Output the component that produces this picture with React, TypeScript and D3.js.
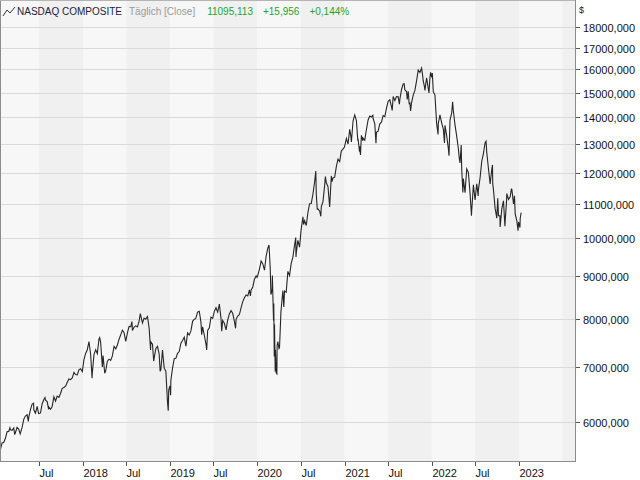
import React from "react";
import * as d3 from "d3";

// ---- Data (weekly-ish closes) ----
const y2017: [string, number][] = [
  ["2017-01-17", 5538], ["2017-01-20", 5555], ["2017-01-27", 5660], ["2017-02-03", 5667], ["2017-02-10", 5734],
  ["2017-02-17", 5839], ["2017-02-24", 5845], ["2017-03-01", 5904], ["2017-03-03", 5870], ["2017-03-10", 5861],
  ["2017-03-17", 5901], ["2017-03-21", 5794], ["2017-03-24", 5828], ["2017-03-31", 5912], ["2017-04-07", 5878],
  ["2017-04-13", 5805], ["2017-04-21", 5910], ["2017-04-28", 6047], ["2017-05-05", 6100], ["2017-05-12", 6121],
  ["2017-05-17", 6011], ["2017-05-19", 6083], ["2017-05-26", 6210], ["2017-06-02", 6306], ["2017-06-08", 6321],
  ["2017-06-09", 6208], ["2017-06-16", 6151], ["2017-06-23", 6265], ["2017-06-29", 6144], ["2017-06-30", 6140],
  ["2017-07-07", 6153], ["2017-07-14", 6312], ["2017-07-21", 6388], ["2017-07-26", 6422], ["2017-07-28", 6374],
  ["2017-08-04", 6351], ["2017-08-10", 6216], ["2017-08-11", 6256], ["2017-08-18", 6217], ["2017-08-25", 6265],
  ["2017-09-01", 6435], ["2017-09-08", 6360], ["2017-09-15", 6448], ["2017-09-22", 6426], ["2017-09-29", 6496],
  ["2017-10-06", 6590], ["2017-10-13", 6605], ["2017-10-20", 6629], ["2017-10-27", 6701], ["2017-11-03", 6764],
  ["2017-11-10", 6750], ["2017-11-17", 6783], ["2017-11-24", 6889], ["2017-12-01", 6847], ["2017-12-08", 6840],
  ["2017-12-15", 6936], ["2017-12-22", 6959], ["2017-12-29", 6903],
];
const y2018: [string, number][] = [
  ["2018-01-05", 7136], ["2018-01-12", 7261], ["2018-01-19", 7336], ["2018-01-26", 7505], ["2018-02-02", 7240],
  ["2018-02-08", 6777], ["2018-02-09", 6874], ["2018-02-16", 7239], ["2018-02-23", 7337], ["2018-03-02", 7258],
  ["2018-03-09", 7560], ["2018-03-12", 7588], ["2018-03-16", 7482], ["2018-03-23", 6993], ["2018-03-26", 7220],
  ["2018-03-29", 7063], ["2018-04-02", 6870], ["2018-04-06", 6915], ["2018-04-13", 7107], ["2018-04-20", 7146],
  ["2018-04-27", 7120], ["2018-05-04", 7210], ["2018-05-11", 7403], ["2018-05-18", 7354], ["2018-05-25", 7434],
  ["2018-06-01", 7554], ["2018-06-08", 7646], ["2018-06-15", 7746], ["2018-06-22", 7692], ["2018-06-29", 7510],
  ["2018-07-06", 7688], ["2018-07-13", 7826], ["2018-07-20", 7820], ["2018-07-25", 7932], ["2018-07-27", 7737],
  ["2018-08-03", 7812], ["2018-08-10", 7839], ["2018-08-17", 7816], ["2018-08-24", 7945], ["2018-08-29", 8110],
  ["2018-09-07", 7903], ["2018-09-14", 8010], ["2018-09-21", 7987], ["2018-09-28", 8046], ["2018-10-05", 7788],
  ["2018-10-11", 7329], ["2018-10-12", 7497], ["2018-10-19", 7449], ["2018-10-24", 7108], ["2018-10-26", 7167],
  ["2018-11-02", 7357], ["2018-11-09", 7406], ["2018-11-16", 7248], ["2018-11-20", 6909], ["2018-11-23", 6938],
  ["2018-11-30", 7331], ["2018-12-07", 6969], ["2018-12-14", 6911], ["2018-12-21", 6333], ["2018-12-24", 6193],
  ["2018-12-26", 6555], ["2018-12-31", 6635],
];
const y2019: [string, number][] = [
  ["2019-01-03", 6463], ["2019-01-04", 6739], ["2019-01-11", 6971], ["2019-01-18", 7157], ["2019-01-25", 7165],
  ["2019-02-01", 7264], ["2019-02-08", 7298], ["2019-02-15", 7472], ["2019-02-22", 7527], ["2019-03-01", 7595],
  ["2019-03-08", 7408], ["2019-03-15", 7688], ["2019-03-22", 7643], ["2019-03-29", 7729], ["2019-04-05", 7939],
  ["2019-04-12", 7985], ["2019-04-18", 7998], ["2019-04-26", 8146], ["2019-05-03", 8164], ["2019-05-10", 7917],
  ["2019-05-13", 7647], ["2019-05-17", 7816], ["2019-05-24", 7637], ["2019-05-31", 7453], ["2019-06-03", 7333],
  ["2019-06-07", 7742], ["2019-06-14", 7797], ["2019-06-21", 8032], ["2019-06-28", 8006], ["2019-07-05", 8162],
  ["2019-07-12", 8244], ["2019-07-19", 8146], ["2019-07-26", 8330], ["2019-08-02", 8004], ["2019-08-05", 7726],
  ["2019-08-09", 7959], ["2019-08-16", 7896], ["2019-08-23", 7752], ["2019-08-30", 7963], ["2019-09-06", 8103],
  ["2019-09-13", 8177], ["2019-09-20", 8118], ["2019-09-27", 7940], ["2019-10-02", 7786], ["2019-10-04", 7982],
  ["2019-10-11", 8057], ["2019-10-18", 8090], ["2019-10-25", 8243], ["2019-11-01", 8386], ["2019-11-08", 8475],
  ["2019-11-15", 8541], ["2019-11-22", 8520], ["2019-11-29", 8665], ["2019-12-03", 8520], ["2019-12-06", 8657],
  ["2019-12-13", 8735], ["2019-12-20", 8925], ["2019-12-27", 9007], ["2019-12-31", 8973],
];
const y2020: [string, number][] = [
  ["2020-01-03", 9020], ["2020-01-10", 9179], ["2020-01-17", 9389], ["2020-01-24", 9315], ["2020-01-31", 9151],
  ["2020-02-07", 9520], ["2020-02-14", 9731], ["2020-02-19", 9817], ["2020-02-21", 9577], ["2020-02-24", 9221],
  ["2020-02-27", 8566], ["2020-02-28", 8567], ["2020-03-03", 8684], ["2020-03-04", 9018], ["2020-03-06", 8576],
  ["2020-03-09", 7950], ["2020-03-10", 8344], ["2020-03-12", 7201], ["2020-03-13", 7875], ["2020-03-16", 6905],
  ["2020-03-17", 7335], ["2020-03-20", 6880], ["2020-03-23", 6861], ["2020-03-24", 7418], ["2020-03-27", 7502],
  ["2020-04-01", 7360], ["2020-04-03", 7373], ["2020-04-09", 8153], ["2020-04-17", 8650], ["2020-04-21", 8263],
  ["2020-04-24", 8634], ["2020-05-01", 8605], ["2020-05-08", 9121], ["2020-05-15", 9015], ["2020-05-22", 9325],
  ["2020-05-29", 9490], ["2020-06-05", 9815], ["2020-06-10", 10020], ["2020-06-11", 9493], ["2020-06-12", 9589],
  ["2020-06-19", 9946], ["2020-06-26", 9757], ["2020-07-02", 10208], ["2020-07-10", 10617], ["2020-07-13", 10391],
  ["2020-07-17", 10503], ["2020-07-24", 10363], ["2020-07-31", 10745], ["2020-08-07", 11011], ["2020-08-14", 11019],
  ["2020-08-21", 11312], ["2020-08-28", 11696], ["2020-09-02", 12056], ["2020-09-04", 11313], ["2020-09-08", 10848],
  ["2020-09-11", 10854], ["2020-09-18", 10793], ["2020-09-23", 10633], ["2020-09-25", 10914], ["2020-10-02", 11075],
  ["2020-10-09", 11580], ["2020-10-12", 11876], ["2020-10-16", 11672], ["2020-10-23", 11548], ["2020-10-30", 10912],
  ["2020-11-06", 11895], ["2020-11-09", 11713], ["2020-11-13", 11830], ["2020-11-20", 11855], ["2020-11-27", 12206],
  ["2020-12-04", 12464], ["2020-12-11", 12378], ["2020-12-18", 12756], ["2020-12-24", 12805], ["2020-12-31", 12888],
];
const y2021: [string, number][] = [
  ["2021-01-08", 13202], ["2021-01-15", 12998], ["2021-01-22", 13543], ["2021-01-27", 13271], ["2021-01-29", 13070],
  ["2021-02-05", 13856], ["2021-02-12", 14095], ["2021-02-19", 13874], ["2021-02-25", 13119], ["2021-02-26", 13192],
  ["2021-03-04", 12723], ["2021-03-05", 12920], ["2021-03-08", 12609], ["2021-03-12", 13319], ["2021-03-18", 13116],
  ["2021-03-19", 13215], ["2021-03-26", 13138], ["2021-04-01", 13480], ["2021-04-09", 13900], ["2021-04-16", 14052],
  ["2021-04-23", 14016], ["2021-04-29", 14082], ["2021-04-30", 13962], ["2021-05-07", 13752], ["2021-05-12", 13032],
  ["2021-05-14", 13430], ["2021-05-21", 13471], ["2021-05-28", 13748], ["2021-06-04", 13814], ["2021-06-11", 14069],
  ["2021-06-18", 14030], ["2021-06-25", 14360], ["2021-07-02", 14639], ["2021-07-09", 14701], ["2021-07-16", 14427],
  ["2021-07-19", 14275], ["2021-07-23", 14837], ["2021-07-30", 14673], ["2021-08-06", 14835], ["2021-08-13", 14823],
  ["2021-08-18", 14526], ["2021-08-20", 14715], ["2021-08-27", 15129], ["2021-09-03", 15364], ["2021-09-07", 15374],
  ["2021-09-10", 15115], ["2021-09-17", 15044], ["2021-09-20", 14714], ["2021-09-24", 15048], ["2021-09-28", 14546],
  ["2021-10-01", 14567], ["2021-10-04", 14255], ["2021-10-08", 14580], ["2021-10-15", 14897], ["2021-10-22", 15090],
  ["2021-10-29", 15498], ["2021-11-05", 15971], ["2021-11-12", 15861], ["2021-11-19", 16057], ["2021-11-22", 15854],
  ["2021-11-26", 15491], ["2021-12-01", 15254], ["2021-12-03", 15085], ["2021-12-10", 15630], ["2021-12-17", 15169],
  ["2021-12-20", 14981], ["2021-12-24", 15653], ["2021-12-27", 15871], ["2021-12-31", 15645],
];
const y2022: [string, number][] = [
  ["2022-01-03", 15832], ["2022-01-07", 15036], ["2022-01-14", 14894], ["2022-01-21", 13769], ["2022-01-27", 13353],
  ["2022-01-28", 13770], ["2022-02-04", 14098], ["2022-02-11", 13791], ["2022-02-18", 13548], ["2022-02-23", 13037],
  ["2022-02-25", 13695], ["2022-03-04", 13313], ["2022-03-11", 12844], ["2022-03-14", 12581], ["2022-03-18", 13894],
  ["2022-03-25", 14169], ["2022-03-29", 14620], ["2022-04-01", 14262], ["2022-04-08", 13711], ["2022-04-14", 13351],
  ["2022-04-22", 12840], ["2022-04-26", 12491], ["2022-04-29", 12335], ["2022-05-04", 12964], ["2022-05-06", 12145],
  ["2022-05-11", 11364], ["2022-05-13", 11805], ["2022-05-20", 11355], ["2022-05-27", 12131], ["2022-06-03", 12013],
  ["2022-06-10", 11340], ["2022-06-16", 10646], ["2022-06-17", 10798], ["2022-06-24", 11608], ["2022-07-01", 11128],
  ["2022-07-08", 11635], ["2022-07-14", 11248], ["2022-07-15", 11452], ["2022-07-22", 11834], ["2022-07-29", 12391],
  ["2022-08-05", 12657], ["2022-08-12", 13048], ["2022-08-16", 13103], ["2022-08-19", 12705], ["2022-08-26", 12142],
  ["2022-09-02", 11631], ["2022-09-09", 12112], ["2022-09-12", 12266], ["2022-09-13", 11634], ["2022-09-16", 11448],
  ["2022-09-23", 10868], ["2022-09-30", 10576], ["2022-10-04", 11176], ["2022-10-07", 10652], ["2022-10-13", 10649],
  ["2022-10-14", 10321], ["2022-10-21", 10860], ["2022-10-28", 11102], ["2022-11-03", 10343], ["2022-11-04", 10475],
  ["2022-11-10", 11114], ["2022-11-11", 11324], ["2022-11-18", 11146], ["2022-11-25", 11226], ["2022-11-30", 11468],
  ["2022-12-02", 11461], ["2022-12-09", 11005], ["2022-12-13", 11256], ["2022-12-16", 10705], ["2022-12-23", 10497],
  ["2022-12-28", 10213], ["2022-12-30", 10466],
];
const y2023: [string, number][] = [
  ["2023-01-05", 10305], ["2023-01-06", 10569], ["2023-01-10", 10742],
];

const yTickValues = [6000, 7000, 8000, 9000, 10000, 11000, 12000, 13000, 14000, 15000, 16000, 17000, 18000];
const titleName = "NASDAQ COMPOSITE";
const titleMode = "Täglich [Close]";
const lastValue = "11095,113";
const change = "+15,956";
const changePct = "+0,144%";

const W = 640;
const H = 480;
const PR = 575; // plot right
const PB = 461; // plot bottom
const FONT = "'Liberation Sans', Arial, sans-serif";

export default function App() {
  const parse = d3.timeParse("%Y-%m-%d");
  const data = [...y2017, ...y2018, ...y2019, ...y2020, ...y2021, ...y2022, ...y2023].map(([d, v]) => ({
    date: parse(d) as Date,
    v,
  }));
  const lastDate = data[data.length - 1].date;

  const x = d3.scaleTime().domain([new Date(2018, 0, 1), new Date(2023, 0, 1)]).range([83, 519]);
  const y = d3.scaleLog().domain([6000, 18000]).range([422, 27]);

  const d0 = x.invert(0);
  const d1 = x.invert(PR);
  const halfYears = d3.timeMonth.every(6)!.range(d3.timeMonth.every(6)!.floor(d0), d1);
  halfYears.push(d3.timeMonth.offset(halfYears[halfYears.length - 1], 6));
  const bands = halfYears.slice(0, -1).map((s, i) => {
    const e = halfYears[i + 1];
    const xs = Math.max(0, x(s));
    const xe = Math.min(PR, x(e));
    return { xs, xe, dark: s.getMonth() === 6 };
  });
  const xTicks = halfYears.filter((t) => x(t) >= 0 && t <= lastDate);

  const line = d3
    .line<{ date: Date; v: number }>()
    .x((d) => x(d.date))
    .y((d) => y(d.v));

  const fmtY = (v: number) => `${d3.format("d")(v)},000`;
  const fmtX = (t: Date) => (t.getMonth() === 0 ? d3.timeFormat("%Y")(t) : "Jul");

  const green = "#1fa32c";

  return (
    <svg
      width={W}
      height={H}
      style={{ position: "fixed", left: 0, top: 0, background: "#fff" }}
      fontFamily={FONT}
    >
      <rect x={0} y={0} width={W} height={H} fill="#fff" />
      {bands.map((b, i) => (
        <rect key={i} x={b.xs} y={0} width={Math.max(0, b.xe - b.xs)} height={PB} fill={b.dark ? "#f0f0f0" : "#f7f7f7"} />
      ))}
      {yTickValues.map((v) => (
        <line key={v} x1={0} x2={PR} y1={Math.round(y(v)) + 0.5} y2={Math.round(y(v)) + 0.5} stroke="#dadada" />
      ))}
      <clipPath id="plotClip">
        <rect x={0} y={0} width={PR} height={PB} />
      </clipPath>
      <path d={line(data) || ""} fill="none" stroke="#262626" strokeWidth={1.1} clipPath="url(#plotClip)" />
      {/* frame */}
      <line x1={0.5} x2={0.5} y1={0} y2={PB} stroke="#8c8c8c" />
      <line x1={0} x2={PR + 1} y1={PB + 0.5} y2={PB + 0.5} stroke="#8c8c8c" />
      <line x1={PR + 0.5} x2={PR + 0.5} y1={0} y2={PB} stroke="#8c8c8c" />
      <line x1={0} x2={PR} y1={0.5} y2={0.5} stroke="#b4b4b4" />
      {/* y axis */}
      <text x={579} y={13} fontSize={9} fill="#222">$</text>
      {yTickValues.map((v) => {
        const yy = Math.round(y(v)) + 0.5;
        return (
          <g key={v}>
            <line x1={PR + 1} x2={PR + 5} y1={yy} y2={yy} stroke="#555" />
            <text x={583} y={yy + 4} fontSize={11} fill="#111">
              {fmtY(v)}
            </text>
          </g>
        );
      })}
      {/* x axis */}
      {xTicks.map((t, i) => {
        const xx = Math.round(x(t)) + 0.5;
        return (
          <g key={i}>
            <line x1={xx} x2={xx} y1={PB + 1} y2={PB + 5} stroke="#555" />
            <text x={xx} y={477} fontSize={11} fill="#111">
              {fmtX(t)}
            </text>
          </g>
        );
      })}
      {/* title */}
      <polyline points="3,16 7,10 10,13 15,7" fill="none" stroke="#333" strokeWidth={1} />
      <text x={17} y={15} fontSize={10} fill="#1c1c3c">
        {titleName}
        <tspan dx={7} fill="#9a9a9a">{titleMode}</tspan>
        <tspan dx={12} fill={green}>{lastValue}</tspan>
        <tspan dx={10} fill={green}>{change}</tspan>
        <tspan dx={10} fill={green}>{changePct}</tspan>
      </text>
    </svg>
  );
}
